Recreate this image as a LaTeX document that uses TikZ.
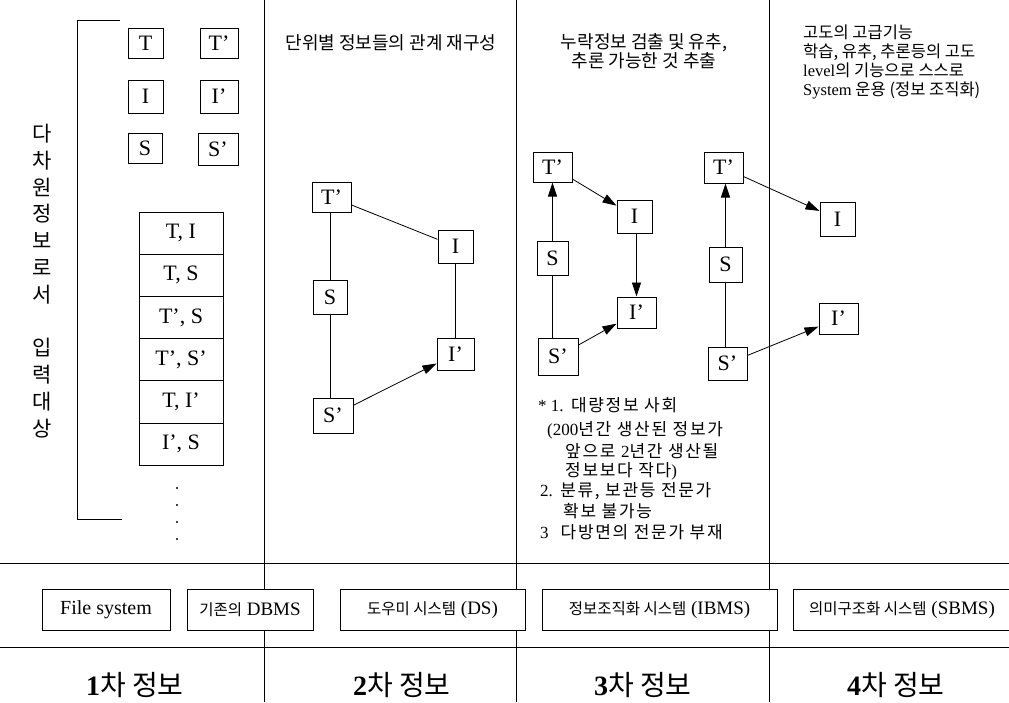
\documentclass[tikz,border=0pt]{standalone}
\usepackage{fontspec}
\setmainfont{Liberation Serif}
\newfontfamily\kr{Noto Sans CJK KR}
\newfontfamily\krw{Noto Sans CJK KR}[LetterSpace=10]
\usetikzlibrary{arrows.meta}
\begin{document}
\begin{tikzpicture}[x=1pt,y=-1pt,
  lbox/.style={draw,line width=1pt,inner sep=0pt,minimum width=36pt,minimum height=32pt,font=\fontsize{22}{24}\selectfont},
  sbox/.style={draw,line width=1pt,inner sep=0pt,minimum width=84pt,minimum height=42.2pt,font=\fontsize{22}{24}\selectfont},
  bbox/.style={draw,line width=1pt,fill=white,inner sep=0pt,minimum height=41pt,font=\fontsize{19}{22}\selectfont},
  conn/.style={line width=0.8pt},
  arr/.style={line width=0.8pt,-{Triangle[length=14pt,width=9pt]}},
  rule/.style={line width=0.9pt},
  hdr/.style={font=\kr\fontsize{18}{18}\selectfont,inner sep=0pt},
  blk/.style={font=\krw\fontsize{17}{19}\selectfont,inner sep=0pt,anchor=west},
  big/.style={font=\fontsize{28}{30}\selectfont,inner sep=0pt}
]
\useasboundingbox (0,0) rectangle (1009,702);

% frame lines
\coordinate (v1t) at (264,0);   \coordinate (v1b) at (264,702);
\coordinate (v2t) at (516,0);   \coordinate (v2b) at (516,702);
\coordinate (v3t) at (769,0);   \coordinate (v3b) at (769,702);
\coordinate (h1l) at (0,563);   \coordinate (h1r) at (1009,563);
\coordinate (h2l) at (0,647);   \coordinate (h2r) at (1009,647);
\draw[rule] (v1t) -- (v1b);
\draw[rule] (v2t) -- (v2b);
\draw[rule] (v3t) -- (v3b);
\draw[rule] (h1l) -- (h1r);
\draw[rule] (h2l) -- (h2r);

% column 1
\coordinate (bk1) at (120,20); \coordinate (bk2) at (77,20);
\coordinate (bk3) at (77,519); \coordinate (bk4) at (122,519);
\draw[rule] (bk1) -- (bk2) -- (bk3) -- (bk4);

\node[font=\kr\fontsize{21}{26.8}\selectfont,align=center,inner sep=0pt] (vt) at (42,281)
  {다\\차\\원\\정\\보\\로\\서\\\mbox{}\\입\\력\\대\\상};

\node[lbox,minimum width=35pt,minimum height=30pt] (a1) at (145.5,43) {T};
\node[lbox,minimum width=38pt,minimum height=30pt] (a2) at (219,43) {T'};
\node[lbox,minimum width=35pt,minimum height=33pt] (a3) at (145.5,96.5) {I};
\node[lbox,minimum width=38pt,minimum height=33pt] (a4) at (219,96.5) {I'};
\node[lbox,minimum width=34pt,minimum height=30pt] (a5) at (145,148) {S};
\node[lbox,minimum width=40pt,minimum height=32pt] (a6) at (218,149) {S'};

\node[sbox] (s1) at (181,233.1) {T, I};
\node[sbox] (s2) at (181,275.3) {T, S};
\node[sbox] (s3) at (181,317.5) {T', S};
\node[sbox] (s4) at (181,359.7) {T', S'};
\node[sbox] (s5) at (181,401.9) {T, I'};
\node[sbox] (s6) at (181,444.1) {I', S};
\foreach \i/\yy in {1/488,2/505,3/522,4/539}
  \fill (177,\yy) circle (1.2pt);

% column 2
\node[hdr] (h2) at (391,43) {단위별 정보들의 관계 재구성};
\node[lbox,minimum width=39pt,minimum height=30pt] (b1) at (331.5,197) {T'};
\node[lbox,minimum width=35pt,minimum height=33pt] (b2) at (455.5,246.5) {I};
\node[lbox,minimum width=34pt,minimum height=34pt] (b3) at (330,297) {S};
\node[lbox,minimum width=37pt,minimum height=32pt] (b4) at (455.5,354) {I'};
\node[lbox,minimum width=40pt,minimum height=35pt] (b5) at (333,415.5) {S'};
\draw[conn] (b1.south -| b3.north) -- (b3.north);
\draw[conn] (b3.south) -- (b3.south |- b5.north);
\draw[conn] (b1) -- (b2);
\draw[conn] (b2.south -| b4.north) -- (b4.north);
\draw[arr] (b5) -- (b4);

% column 3
\node[hdr,align=center] (h3) at (644,51) {누락정보 검출 및 유추,\\추론 가능한 것 추출};
\node[lbox,minimum width=39pt,minimum height=30pt] (c1) at (552.5,167) {T'};
\node[lbox,minimum width=35pt,minimum height=33pt] (c2) at (634.5,216.5) {I};
\node[lbox,minimum width=31pt,minimum height=34pt] (c3) at (552.5,258) {S};
\node[lbox,minimum width=39pt,minimum height=31pt] (c4) at (636.5,312.5) {I'};
\node[lbox,minimum width=40pt,minimum height=37pt] (c5) at (558,356.5) {S'};
\draw[arr] (c3.north) -- (c3.north |- c1.south);
\draw[conn] (c3.south) -- (c3.south |- c5.north);
\draw[arr] (c1) -- (c2);
\draw[arr] (c2.south -| c4.north) -- (c4.north);
\draw[arr] (c5) -- (c4);

\node[lbox,minimum width=39pt,minimum height=31pt] (d1) at (723.5,167.5) {T'};
\node[lbox,minimum width=33pt,minimum height=35pt] (d2) at (725.5,264.5) {S};
\node[lbox,minimum width=39pt,minimum height=33pt] (d3) at (727.5,363.5) {S'};
\draw[arr] (d2.north) -- (d2.north |- d1.south);
\draw[conn] (d2.south) -- (d2.south |- d3.north);

\node[blk] (t1) at (538,405) {{\rmfamily * 1.} 대량정보 사회};
\node[blk] (t2) at (547,430) {{\rmfamily (200}년간 생산된 정보가};
\node[blk] (t3) at (565,451) {앞으로 {\rmfamily 2}년간 생산될};
\node[blk] (t4) at (565,471) {정보보다 작다{\rmfamily )}};
\node[blk] (t5) at (540,491) {{\rmfamily 2.} 분류, 보관등 전문가};
\node[blk] (t6) at (563,511) {확보 불가능};
\node[blk] (t7) at (540,532) {{\rmfamily 3}\hspace{12pt}다방면의 전문가 부재};

% column 4
\node[hdr,align=left,anchor=west,font=\kr\fontsize{16.5}{19.2}\selectfont] (h4) at (803,62)
  {고도의 고급기능\\학습, 유추, 추론등의 고도\\{\rmfamily level}의 기능으로 스스로\\{\rmfamily System} 운용 ({정보 조직화})};
\node[lbox,minimum width=35pt,minimum height=34pt] (e1) at (837.5,219) {I};
\node[lbox,minimum width=39pt,minimum height=31pt] (e2) at (838.5,318.5) {I'};
\draw[arr] (d1) -- (e1);
\draw[arr] (d3) -- (e2);

% bottom systems
\node[bbox,minimum width=128pt,font=\fontsize{20}{22}\selectfont] (f1) at (106,609.5) {File system};
\node[bbox,minimum width=126pt] (f2) at (250,609.5) {{\kr\fontsize{15.5}{16}\selectfont 기존의} DBMS};
\node[bbox,minimum width=185pt] (f3) at (432.5,609.5) {{\kr\fontsize{15.5}{16}\selectfont 도우미 시스템} (DS)};
\node[bbox,minimum width=235pt] (f4) at (659.5,609.5) {{\kr\fontsize{15.5}{16}\selectfont 정보조직화 시스템} (IBMS)};
\node[bbox,minimum width=218pt] (f5) at (902,609.5) {{\kr\fontsize{15.5}{16}\selectfont 의미구조화 시스템} (SBMS)};

% bottom labels
\node[big] (g1) at (135,685) {\textbf{1}{\kr 차 정보}};
\node[big] (g2) at (402,685) {\textbf{2}{\kr 차 정보}};
\node[big] (g3) at (643,685) {\textbf{3}{\kr 차 정보}};
\node[big] (g4) at (896,685) {\textbf{4}{\kr 차 정보}};
\end{tikzpicture}
\end{document}
